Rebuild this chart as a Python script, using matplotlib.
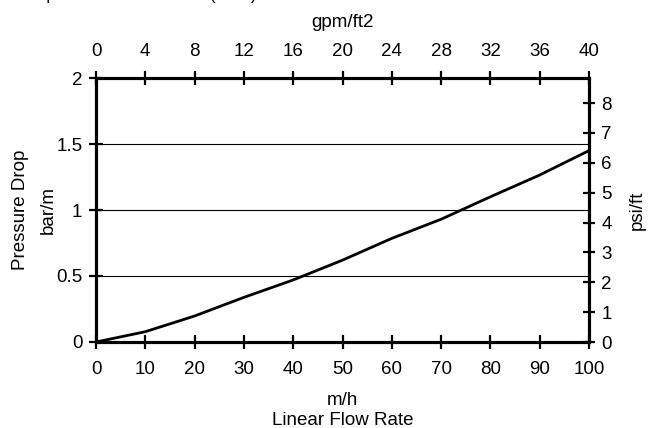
import matplotlib
matplotlib.use("Agg")
import matplotlib.pyplot as plt

plt.rcParams['font.family'] = ['Liberation Sans', 'DejaVu Sans']
plt.rcParams['font.size'] = 13.5

# data
flow_mh = [0, 10, 20, 30, 40, 50, 60, 70, 80, 90, 100]
dp_barm = [0, 0.078, 0.197, 0.338, 0.47, 0.62, 0.785, 0.93, 1.10, 1.265, 1.45]

x_ticks = [0, 10, 20, 30, 40, 50, 60, 70, 80, 90, 100]
y_ticks = [0, 0.5, 1, 1.5, 2]
y_labels = ['0', '0.5', '1', '1.5', '2']
gpm_ticks = [0, 4, 8, 12, 16, 20, 24, 28, 32, 36, 40]
psi_ticks = [0, 1, 2, 3, 4, 5, 6, 7, 8]
BAR_M_TO_PSI_FT = 4.4208

fig = plt.figure(figsize=(6.48, 4.28), dpi=100)
ax = fig.add_axes([96/648, 1-342/428, (589-96)/648, (342-78)/428])

for g in [0.5, 1, 1.5]:
    ax.axhline(g, color='black', lw=0.8, zorder=1)
ax.plot(flow_mh, dp_barm, color='black', lw=2.0, zorder=3)

ax.set_xlim(0, 100)
ax.set_ylim(0, 2)
ax.set_xticks(x_ticks)
ax.set_yticks(y_ticks)
ax.set_yticklabels(y_labels)
ax.tick_params(direction='inout', length=9.5, width=1.6)
ax.tick_params(axis='x', pad=9)
ax.tick_params(axis='y', pad=5)
for s in ax.spines.values():
    s.set_linewidth(2.2)
ax.set_xlabel('m/h\nLinear Flow Rate', labelpad=10, linespacing=1.2)
ax.set_ylabel('Pressure Drop\nbar/m', linespacing=1.85)
ax.yaxis.set_label_coords(-0.079, 0.5)

ax_top = ax.twiny()
ax_top.set_xlim(0, 40)
ax_top.set_xticks(gpm_ticks)
ax_top.tick_params(direction='inout', length=9.5, width=1.6, pad=8)
ax_top.set_xlabel('gpm/ft2', labelpad=12)

ax_r = ax.twinx()
ax_r.set_ylim(0, 2*BAR_M_TO_PSI_FT)
ax_r.set_yticks(psi_ticks)
ax_r.tick_params(direction='inout', length=8, width=1.6, pad=5)
ax_r.set_ylabel('psi/ft', labelpad=12)
for a in (ax_top, ax_r):
    for s in a.spines.values():
        s.set_linewidth(2.2)

fig.text(15/648, 1.001, 'Temperature of water 5\u00b0C (41\u00b0F)', va='baseline', ha='left', fontsize=12)

fig.savefig('out.png', dpi=100)
